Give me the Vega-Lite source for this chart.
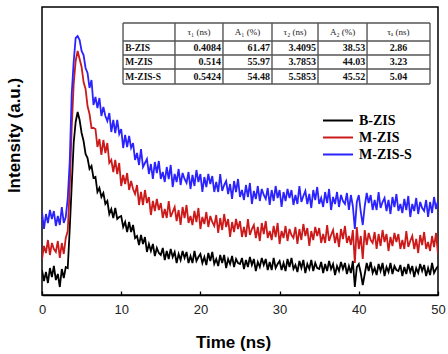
{
  "$schema": "https://vega.github.io/schema/vega-lite/v6.json",
  "autosize": {"type": "none"},
  "padding": {"left": 42, "top": 7, "right": 10, "bottom": 59},
  "width": 396,
  "height": 288,
  "background": "white",
  "config": {
    "view": {"stroke": "#000000", "strokeWidth": 1.5},
    "axis": {"grid": false}
  },
  "datasets": {
    "curves": [
      {"t":0,"B-ZIS":25,"M-ZIS":36,"M-ZIS-S":83},
      {"t":0.25,"B-ZIS":14,"M-ZIS":49,"M-ZIS-S":66},
      {"t":0.5,"B-ZIS":23,"M-ZIS":42,"M-ZIS-S":81},
      {"t":0.75,"B-ZIS":12,"M-ZIS":55,"M-ZIS-S":72},
      {"t":1,"B-ZIS":27,"M-ZIS":40,"M-ZIS-S":85},
      {"t":1.25,"B-ZIS":18,"M-ZIS":52,"M-ZIS-S":76},
      {"t":1.5,"B-ZIS":29,"M-ZIS":46,"M-ZIS-S":84},
      {"t":1.75,"B-ZIS":15,"M-ZIS":43,"M-ZIS-S":69},
      {"t":2,"B-ZIS":21,"M-ZIS":54,"M-ZIS-S":79},
      {"t":2.25,"B-ZIS":8,"M-ZIS":37,"M-ZIS-S":70},
      {"t":2.5,"B-ZIS":26,"M-ZIS":52,"M-ZIS-S":88},
      {"t":2.75,"B-ZIS":17,"M-ZIS":41,"M-ZIS-S":72},
      {"t":3,"B-ZIS":28,"M-ZIS":57,"M-ZIS-S":78},
      {"t":3.25,"B-ZIS":27,"M-ZIS":64,"M-ZIS-S":97},
      {"t":3.5,"B-ZIS":66,"M-ZIS":107,"M-ZIS-S":133},
      {"t":3.75,"B-ZIS":109,"M-ZIS":167,"M-ZIS-S":201},
      {"t":4,"B-ZIS":152,"M-ZIS":211,"M-ZIS-S":233},
      {"t":4.25,"B-ZIS":173,"M-ZIS":234,"M-ZIS-S":257},
      {"t":4.5,"B-ZIS":183,"M-ZIS":244,"M-ZIS-S":259},
      {"t":4.75,"B-ZIS":175,"M-ZIS":236,"M-ZIS-S":255},
      {"t":5,"B-ZIS":162,"M-ZIS":228,"M-ZIS-S":244},
      {"t":5.25,"B-ZIS":154,"M-ZIS":213,"M-ZIS-S":240},
      {"t":5.5,"B-ZIS":141,"M-ZIS":206,"M-ZIS-S":227},
      {"t":5.75,"B-ZIS":137,"M-ZIS":189,"M-ZIS-S":222},
      {"t":6,"B-ZIS":126,"M-ZIS":181,"M-ZIS-S":207},
      {"t":6.25,"B-ZIS":129,"M-ZIS":167,"M-ZIS-S":215},
      {"t":6.5,"B-ZIS":117,"M-ZIS":167,"M-ZIS-S":190},
      {"t":6.75,"B-ZIS":118,"M-ZIS":166,"M-ZIS-S":198},
      {"t":7,"B-ZIS":103,"M-ZIS":148,"M-ZIS-S":187},
      {"t":7.25,"B-ZIS":107,"M-ZIS":156,"M-ZIS-S":197},
      {"t":7.5,"B-ZIS":98,"M-ZIS":140,"M-ZIS-S":179},
      {"t":7.75,"B-ZIS":102,"M-ZIS":155,"M-ZIS-S":188},
      {"t":8,"B-ZIS":91,"M-ZIS":142,"M-ZIS-S":179},
      {"t":8.25,"B-ZIS":94,"M-ZIS":152,"M-ZIS-S":174},
      {"t":8.5,"B-ZIS":81,"M-ZIS":132,"M-ZIS-S":182},
      {"t":8.75,"B-ZIS":86,"M-ZIS":135,"M-ZIS-S":163},
      {"t":9,"B-ZIS":77,"M-ZIS":123,"M-ZIS-S":175},
      {"t":9.25,"B-ZIS":87,"M-ZIS":135,"M-ZIS-S":162},
      {"t":9.5,"B-ZIS":76,"M-ZIS":121,"M-ZIS-S":175},
      {"t":9.75,"B-ZIS":78,"M-ZIS":132,"M-ZIS-S":161},
      {"t":10,"B-ZIS":79,"M-ZIS":109,"M-ZIS-S":166},
      {"t":10.25,"B-ZIS":68,"M-ZIS":120,"M-ZIS-S":147},
      {"t":10.5,"B-ZIS":73,"M-ZIS":111,"M-ZIS-S":160},
      {"t":10.75,"B-ZIS":63,"M-ZIS":122,"M-ZIS-S":148},
      {"t":11,"B-ZIS":73,"M-ZIS":105,"M-ZIS-S":159},
      {"t":11.25,"B-ZIS":63,"M-ZIS":114,"M-ZIS-S":147},
      {"t":11.5,"B-ZIS":70,"M-ZIS":106,"M-ZIS-S":152},
      {"t":11.75,"B-ZIS":57,"M-ZIS":101,"M-ZIS-S":135},
      {"t":12,"B-ZIS":59,"M-ZIS":110,"M-ZIS-S":142},
      {"t":12.25,"B-ZIS":50,"M-ZIS":90,"M-ZIS-S":130},
      {"t":12.5,"B-ZIS":60,"M-ZIS":103,"M-ZIS-S":146},
      {"t":12.75,"B-ZIS":51,"M-ZIS":90,"M-ZIS-S":128},
      {"t":13,"B-ZIS":58,"M-ZIS":105,"M-ZIS-S":132},
      {"t":13.25,"B-ZIS":43,"M-ZIS":92,"M-ZIS-S":136},
      {"t":13.5,"B-ZIS":51,"M-ZIS":98,"M-ZIS-S":121},
      {"t":13.75,"B-ZIS":44,"M-ZIS":80,"M-ZIS-S":131},
      {"t":14,"B-ZIS":51,"M-ZIS":94,"M-ZIS-S":116},
      {"t":14.25,"B-ZIS":39,"M-ZIS":84,"M-ZIS-S":133},
      {"t":14.5,"B-ZIS":47,"M-ZIS":96,"M-ZIS-S":122},
      {"t":14.75,"B-ZIS":42,"M-ZIS":85,"M-ZIS-S":134},
      {"t":15,"B-ZIS":40,"M-ZIS":92,"M-ZIS-S":116},
      {"t":15.25,"B-ZIS":47,"M-ZIS":77,"M-ZIS-S":123},
      {"t":15.5,"B-ZIS":35,"M-ZIS":86,"M-ZIS-S":113},
      {"t":15.75,"B-ZIS":44,"M-ZIS":77,"M-ZIS-S":128},
      {"t":16,"B-ZIS":36,"M-ZIS":94,"M-ZIS-S":116},
      {"t":16.25,"B-ZIS":46,"M-ZIS":78,"M-ZIS-S":130},
      {"t":16.5,"B-ZIS":38,"M-ZIS":83,"M-ZIS-S":108},
      {"t":16.75,"B-ZIS":43,"M-ZIS":88,"M-ZIS-S":121},
      {"t":17,"B-ZIS":32,"M-ZIS":74,"M-ZIS-S":113},
      {"t":17.25,"B-ZIS":41,"M-ZIS":85,"M-ZIS-S":126},
      {"t":17.5,"B-ZIS":35,"M-ZIS":70,"M-ZIS-S":110},
      {"t":17.75,"B-ZIS":44,"M-ZIS":88,"M-ZIS-S":122},
      {"t":18,"B-ZIS":37,"M-ZIS":77,"M-ZIS-S":116},
      {"t":18.25,"B-ZIS":43,"M-ZIS":90,"M-ZIS-S":112},
      {"t":18.5,"B-ZIS":32,"M-ZIS":72,"M-ZIS-S":123},
      {"t":18.75,"B-ZIS":39,"M-ZIS":79,"M-ZIS-S":106},
      {"t":19,"B-ZIS":32,"M-ZIS":70,"M-ZIS-S":120},
      {"t":19.25,"B-ZIS":44,"M-ZIS":84,"M-ZIS-S":109},
      {"t":19.5,"B-ZIS":34,"M-ZIS":73,"M-ZIS-S":125},
      {"t":19.75,"B-ZIS":38,"M-ZIS":87,"M-ZIS-S":113},
      {"t":20,"B-ZIS":41,"M-ZIS":66,"M-ZIS-S":121},
      {"t":20.25,"B-ZIS":32,"M-ZIS":78,"M-ZIS-S":103},
      {"t":20.5,"B-ZIS":38,"M-ZIS":71,"M-ZIS-S":118},
      {"t":20.75,"B-ZIS":30,"M-ZIS":83,"M-ZIS-S":108},
      {"t":21,"B-ZIS":42,"M-ZIS":68,"M-ZIS-S":121},
      {"t":21.25,"B-ZIS":34,"M-ZIS":79,"M-ZIS-S":111},
      {"t":21.5,"B-ZIS":43,"M-ZIS":73,"M-ZIS-S":119},
      {"t":21.75,"B-ZIS":31,"M-ZIS":69,"M-ZIS-S":103},
      {"t":22,"B-ZIS":36,"M-ZIS":80,"M-ZIS-S":113},
      {"t":22.25,"B-ZIS":29,"M-ZIS":62,"M-ZIS-S":103},
      {"t":22.5,"B-ZIS":40,"M-ZIS":77,"M-ZIS-S":121},
      {"t":22.75,"B-ZIS":32,"M-ZIS":65,"M-ZIS-S":104},
      {"t":23,"B-ZIS":40,"M-ZIS":81,"M-ZIS-S":110},
      {"t":23.25,"B-ZIS":27,"M-ZIS":68,"M-ZIS-S":114},
      {"t":23.5,"B-ZIS":36,"M-ZIS":76,"M-ZIS-S":101},
      {"t":23.75,"B-ZIS":31,"M-ZIS":58,"M-ZIS-S":111},
      {"t":24,"B-ZIS":39,"M-ZIS":73,"M-ZIS-S":96},
      {"t":24.25,"B-ZIS":28,"M-ZIS":63,"M-ZIS-S":114},
      {"t":24.5,"B-ZIS":36,"M-ZIS":76,"M-ZIS-S":103},
      {"t":24.75,"B-ZIS":32,"M-ZIS":66,"M-ZIS-S":116},
      {"t":25,"B-ZIS":31,"M-ZIS":74,"M-ZIS-S":98},
      {"t":25.25,"B-ZIS":37,"M-ZIS":58,"M-ZIS-S":105},
      {"t":25.5,"B-ZIS":26,"M-ZIS":68,"M-ZIS-S":95},
      {"t":25.75,"B-ZIS":35,"M-ZIS":58,"M-ZIS-S":110},
      {"t":26,"B-ZIS":28,"M-ZIS":76,"M-ZIS-S":98},
      {"t":26.25,"B-ZIS":38,"M-ZIS":60,"M-ZIS-S":112},
      {"t":26.5,"B-ZIS":30,"M-ZIS":66,"M-ZIS-S":91},
      {"t":26.75,"B-ZIS":36,"M-ZIS":70,"M-ZIS-S":104},
      {"t":27,"B-ZIS":24,"M-ZIS":57,"M-ZIS-S":96},
      {"t":27.25,"B-ZIS":33,"M-ZIS":68,"M-ZIS-S":109},
      {"t":27.5,"B-ZIS":28,"M-ZIS":54,"M-ZIS-S":94},
      {"t":27.75,"B-ZIS":37,"M-ZIS":72,"M-ZIS-S":106},
      {"t":28,"B-ZIS":30,"M-ZIS":61,"M-ZIS-S":100},
      {"t":28.25,"B-ZIS":36,"M-ZIS":74,"M-ZIS-S":96},
      {"t":28.5,"B-ZIS":25,"M-ZIS":57,"M-ZIS-S":107},
      {"t":28.75,"B-ZIS":33,"M-ZIS":64,"M-ZIS-S":90},
      {"t":29,"B-ZIS":25,"M-ZIS":55,"M-ZIS-S":105},
      {"t":29.25,"B-ZIS":37,"M-ZIS":69,"M-ZIS-S":94},
      {"t":29.5,"B-ZIS":27,"M-ZIS":58,"M-ZIS-S":109},
      {"t":29.75,"B-ZIS":31,"M-ZIS":72,"M-ZIS-S":97},
      {"t":30,"B-ZIS":34,"M-ZIS":51,"M-ZIS-S":105},
      {"t":30.25,"B-ZIS":25,"M-ZIS":64,"M-ZIS-S":88},
      {"t":30.5,"B-ZIS":32,"M-ZIS":57,"M-ZIS-S":103},
      {"t":30.75,"B-ZIS":24,"M-ZIS":69,"M-ZIS-S":94},
      {"t":31,"B-ZIS":36,"M-ZIS":54,"M-ZIS-S":106},
      {"t":31.25,"B-ZIS":28,"M-ZIS":66,"M-ZIS-S":97},
      {"t":31.5,"B-ZIS":37,"M-ZIS":60,"M-ZIS-S":105},
      {"t":31.75,"B-ZIS":26,"M-ZIS":57,"M-ZIS-S":90},
      {"t":32,"B-ZIS":30,"M-ZIS":68,"M-ZIS-S":100},
      {"t":32.25,"B-ZIS":23,"M-ZIS":51,"M-ZIS-S":91},
      {"t":32.5,"B-ZIS":34,"M-ZIS":66,"M-ZIS-S":109},
      {"t":32.75,"B-ZIS":27,"M-ZIS":55,"M-ZIS-S":93},
      {"t":33,"B-ZIS":35,"M-ZIS":71,"M-ZIS-S":99},
      {"t":33.25,"B-ZIS":22,"M-ZIS":59,"M-ZIS-S":104},
      {"t":33.5,"B-ZIS":31,"M-ZIS":67,"M-ZIS-S":91},
      {"t":33.75,"B-ZIS":26,"M-ZIS":49,"M-ZIS-S":101},
      {"t":34,"B-ZIS":35,"M-ZIS":64,"M-ZIS-S":87},
      {"t":34.25,"B-ZIS":24,"M-ZIS":55,"M-ZIS-S":105},
      {"t":34.5,"B-ZIS":32,"M-ZIS":68,"M-ZIS-S":95},
      {"t":34.75,"B-ZIS":27,"M-ZIS":59,"M-ZIS-S":108},
      {"t":35,"B-ZIS":26,"M-ZIS":67,"M-ZIS-S":91},
      {"t":35.25,"B-ZIS":33,"M-ZIS":52,"M-ZIS-S":97},
      {"t":35.5,"B-ZIS":22,"M-ZIS":61,"M-ZIS-S":88},
      {"t":35.75,"B-ZIS":31,"M-ZIS":52,"M-ZIS-S":103},
      {"t":36,"B-ZIS":24,"M-ZIS":70,"M-ZIS-S":92},
      {"t":36.25,"B-ZIS":34,"M-ZIS":54,"M-ZIS-S":106},
      {"t":36.5,"B-ZIS":26,"M-ZIS":60,"M-ZIS-S":85},
      {"t":36.75,"B-ZIS":31,"M-ZIS":65,"M-ZIS-S":98},
      {"t":37,"B-ZIS":20,"M-ZIS":52,"M-ZIS-S":91},
      {"t":37.25,"B-ZIS":29,"M-ZIS":62,"M-ZIS-S":103},
      {"t":37.5,"B-ZIS":24,"M-ZIS":48,"M-ZIS-S":88},
      {"t":37.75,"B-ZIS":33,"M-ZIS":66,"M-ZIS-S":100},
      {"t":38,"B-ZIS":26,"M-ZIS":56,"M-ZIS-S":94},
      {"t":38.25,"B-ZIS":32,"M-ZIS":69,"M-ZIS-S":91},
      {"t":38.5,"B-ZIS":21,"M-ZIS":52,"M-ZIS-S":102},
      {"t":38.75,"B-ZIS":29,"M-ZIS":59,"M-ZIS-S":85},
      {"t":39,"B-ZIS":22,"M-ZIS":50,"M-ZIS-S":100},
      {"t":39.25,"B-ZIS":34,"M-ZIS":65,"M-ZIS-S":89},
      {"t":39.5,"B-ZIS":8,"M-ZIS":32,"M-ZIS-S":66},
      {"t":39.75,"B-ZIS":28,"M-ZIS":68,"M-ZIS-S":93},
      {"t":40,"B-ZIS":31,"M-ZIS":46,"M-ZIS-S":100},
      {"t":40.25,"B-ZIS":22,"M-ZIS":59,"M-ZIS-S":83},
      {"t":40.5,"B-ZIS":10,"M-ZIS":36,"M-ZIS-S":70},
      {"t":40.75,"B-ZIS":21,"M-ZIS":65,"M-ZIS-S":89},
      {"t":41,"B-ZIS":32,"M-ZIS":50,"M-ZIS-S":102},
      {"t":41.25,"B-ZIS":24,"M-ZIS":62,"M-ZIS-S":92},
      {"t":41.5,"B-ZIS":33,"M-ZIS":55,"M-ZIS-S":100},
      {"t":41.75,"B-ZIS":22,"M-ZIS":52,"M-ZIS-S":85},
      {"t":42,"B-ZIS":27,"M-ZIS":63,"M-ZIS-S":95},
      {"t":42.25,"B-ZIS":20,"M-ZIS":46,"M-ZIS-S":85},
      {"t":42.5,"B-ZIS":31,"M-ZIS":61,"M-ZIS-S":103},
      {"t":42.75,"B-ZIS":24,"M-ZIS":49,"M-ZIS-S":87},
      {"t":43,"B-ZIS":32,"M-ZIS":65,"M-ZIS-S":93},
      {"t":43.25,"B-ZIS":19,"M-ZIS":53,"M-ZIS-S":97},
      {"t":43.5,"B-ZIS":28,"M-ZIS":61,"M-ZIS-S":84},
      {"t":43.75,"B-ZIS":23,"M-ZIS":44,"M-ZIS-S":95},
      {"t":44,"B-ZIS":32,"M-ZIS":58,"M-ZIS-S":81},
      {"t":44.25,"B-ZIS":21,"M-ZIS":49,"M-ZIS-S":98},
      {"t":44.5,"B-ZIS":29,"M-ZIS":62,"M-ZIS-S":88},
      {"t":44.75,"B-ZIS":25,"M-ZIS":53,"M-ZIS-S":101},
      {"t":45,"B-ZIS":24,"M-ZIS":61,"M-ZIS-S":84},
      {"t":45.25,"B-ZIS":30,"M-ZIS":46,"M-ZIS-S":91},
      {"t":45.5,"B-ZIS":19,"M-ZIS":55,"M-ZIS-S":82},
      {"t":45.75,"B-ZIS":28,"M-ZIS":46,"M-ZIS-S":96},
      {"t":46,"B-ZIS":21,"M-ZIS":64,"M-ZIS-S":85},
      {"t":46.25,"B-ZIS":31,"M-ZIS":48,"M-ZIS-S":99},
      {"t":46.5,"B-ZIS":23,"M-ZIS":54,"M-ZIS-S":78},
      {"t":46.75,"B-ZIS":29,"M-ZIS":59,"M-ZIS-S":91},
      {"t":47,"B-ZIS":18,"M-ZIS":46,"M-ZIS-S":84},
      {"t":47.25,"B-ZIS":27,"M-ZIS":56,"M-ZIS-S":97},
      {"t":47.5,"B-ZIS":22,"M-ZIS":42,"M-ZIS-S":81},
      {"t":47.75,"B-ZIS":31,"M-ZIS":60,"M-ZIS-S":93},
      {"t":48,"B-ZIS":24,"M-ZIS":50,"M-ZIS-S":87},
      {"t":48.25,"B-ZIS":30,"M-ZIS":63,"M-ZIS-S":84},
      {"t":48.5,"B-ZIS":19,"M-ZIS":46,"M-ZIS-S":95},
      {"t":48.75,"B-ZIS":27,"M-ZIS":53,"M-ZIS-S":78},
      {"t":49,"B-ZIS":20,"M-ZIS":44,"M-ZIS-S":93},
      {"t":49.25,"B-ZIS":32,"M-ZIS":59,"M-ZIS-S":82},
      {"t":49.5,"B-ZIS":22,"M-ZIS":48,"M-ZIS-S":98},
      {"t":49.75,"B-ZIS":26,"M-ZIS":62,"M-ZIS-S":86},
      {"t":50,"B-ZIS":29,"M-ZIS":41,"M-ZIS-S":94}
    ],
    "grid": [
      {"x1":10.23,"x2":48.99,"y1":272,"y2":272},
      {"x1":10.23,"x2":48.99,"y1":254,"y2":254},
      {"x1":10.23,"x2":48.99,"y1":240,"y2":240},
      {"x1":10.23,"x2":48.99,"y1":226,"y2":226},
      {"x1":10.23,"x2":48.99,"y1":211,"y2":211},
      {"x1":10.23,"x2":10.23,"y1":211,"y2":272},
      {"x1":16.79,"x2":16.79,"y1":211,"y2":272},
      {"x1":22.85,"x2":22.85,"y1":211,"y2":272},
      {"x1":29.04,"x2":29.04,"y1":211,"y2":272},
      {"x1":34.85,"x2":34.85,"y1":211,"y2":272},
      {"x1":41.04,"x2":41.04,"y1":211,"y2":272},
      {"x1":48.99,"x2":48.99,"y1":211,"y2":272}
    ],
    "cells": [
      {"x":19.82,"y":263,"text":"τ₁ (ns)","kind":"head"},
      {"x":25.95,"y":263,"text":"A₁ (%)","kind":"head"},
      {"x":31.95,"y":263,"text":"τ₂ (ns)","kind":"head"},
      {"x":37.95,"y":263,"text":"A₂ (%)","kind":"head"},
      {"x":45.0,"y":263,"text":"τₐ (ns)","kind":"head"},
      {"x":10.5,"y":247,"text":"B-ZIS","kind":"name"},
      {"x":10.5,"y":233,"text":"M-ZIS","kind":"name"},
      {"x":10.5,"y":218.5,"text":"M-ZIS-S","kind":"name"},
      {"x":22.6,"y":247,"text":"0.4084","kind":"num"},
      {"x":28.8,"y":247,"text":"61.47","kind":"num"},
      {"x":34.6,"y":247,"text":"3.4095","kind":"num"},
      {"x":40.8,"y":247,"text":"38.53","kind":"num"},
      {"x":45.0,"y":247,"text":"2.86","kind":"avg"},
      {"x":22.6,"y":233,"text":"0.514","kind":"num"},
      {"x":28.8,"y":233,"text":"55.97","kind":"num"},
      {"x":34.6,"y":233,"text":"3.7853","kind":"num"},
      {"x":40.8,"y":233,"text":"44.03","kind":"num"},
      {"x":45.0,"y":233,"text":"3.23","kind":"avg"},
      {"x":22.6,"y":218.5,"text":"0.5424","kind":"num"},
      {"x":28.8,"y":218.5,"text":"54.48","kind":"num"},
      {"x":34.6,"y":218.5,"text":"5.5853","kind":"num"},
      {"x":40.8,"y":218.5,"text":"45.52","kind":"num"},
      {"x":45.0,"y":218.5,"text":"5.04","kind":"avg"}
    ]
  },
  "layer": [
    {
      "data": {"name": "curves"},
      "transform": [{"fold": ["B-ZIS", "M-ZIS", "M-ZIS-S"], "as": ["sample", "intensity"]}],
      "mark": {"type": "line", "strokeWidth": 1.8, "clip": true},
      "encoding": {
        "x": {
          "field": "t", "type": "quantitative", "title": "Time (ns)",
          "scale": {"domain": [0, 50], "nice": false, "zero": false},
          "axis": {
            "values": [0,5,10,15,20,25,30,35,40,45,50],
            "labelExpr": "datum.value % 10 === 0 ? datum.label : ''",
            "labelFlush": false,
            "labelOverlap": false,
            "tickSize": -4,
            "tickColor": "#000000",
            "tickWidth": 1.3,
            "domainColor": "#000000",
            "domainWidth": 1.5,
            "labelFont": "Liberation Sans",
            "labelFontSize": 13,
            "labelColor": "#222222",
            "labelPadding": 12,
            "titleFont": "Liberation Sans",
            "titleFontSize": 17,
            "titleFontWeight": "bold",
            "titleColor": "#000000",
            "titlePadding": 18,
            "titleX": 191
          }
        },
        "y": {
          "field": "intensity", "type": "quantitative", "title": "Intensity (a.u.)",
          "scale": {"domain": [0, 288], "nice": false, "zero": false},
          "axis": {
            "ticks": false, "labels": false, "domain": false,
            "titleFont": "Liberation Sans",
            "titleFontSize": 17,
            "titleFontWeight": "bold",
            "titleColor": "#000000",
            "titlePadding": 19,
            "titleY": 128
          }
        },
        "color": {
          "field": "sample", "type": "nominal",
          "scale": {"domain": ["B-ZIS", "M-ZIS", "M-ZIS-S"], "range": ["#000000", "#cc1a1a", "#2a22ff"]},
          "legend": {
            "title": null,
            "orient": "none",
            "legendX": 280,
            "legendY": 105,
            "symbolType": "stroke",
            "symbolSize": 900,
            "symbolStrokeWidth": 2,
            "clipHeight": 17,
            "rowPadding": 0,
            "labelFont": "Liberation Serif",
            "labelFontSize": 14,
            "labelFontWeight": "bold",
            "labelColor": "#000000",
            "labelOffset": 5
          }
        }
      }
    },
    {
      "data": {"name": "grid"},
      "mark": {"type": "rule", "color": "#555555", "strokeWidth": 1.4},
      "encoding": {
        "x": {"field": "x1", "type": "quantitative", "title": "Time (ns)"},
        "x2": {"field": "x2"},
        "y": {"field": "y1", "type": "quantitative", "title": "Intensity (a.u.)"},
        "y2": {"field": "y2"}
      }
    },
    {
      "data": {"name": "cells"},
      "transform": [{"filter": "datum.kind === 'head'"}],
      "mark": {"type": "text", "align": "center", "baseline": "middle", "font": "Liberation Serif", "fontSize": 9, "color": "#222222"},
      "encoding": {
        "x": {"field": "x", "type": "quantitative", "title": "Time (ns)"},
        "y": {"field": "y", "type": "quantitative", "title": "Intensity (a.u.)"},
        "text": {"field": "text"}
      }
    },
    {
      "data": {"name": "cells"},
      "transform": [{"filter": "datum.kind === 'name'"}],
      "mark": {"type": "text", "align": "left", "baseline": "middle", "font": "Liberation Serif", "fontSize": 9.5, "fontWeight": "bold", "color": "#111111"},
      "encoding": {
        "x": {"field": "x", "type": "quantitative", "title": "Time (ns)"},
        "y": {"field": "y", "type": "quantitative", "title": "Intensity (a.u.)"},
        "text": {"field": "text"}
      }
    },
    {
      "data": {"name": "cells"},
      "transform": [{"filter": "datum.kind === 'num'"}],
      "mark": {"type": "text", "align": "right", "baseline": "middle", "font": "Liberation Serif", "fontSize": 10, "fontWeight": "bold", "color": "#111111"},
      "encoding": {
        "x": {"field": "x", "type": "quantitative", "title": "Time (ns)"},
        "y": {"field": "y", "type": "quantitative", "title": "Intensity (a.u.)"},
        "text": {"field": "text"}
      }
    },
    {
      "data": {"name": "cells"},
      "transform": [{"filter": "datum.kind === 'avg'"}],
      "mark": {"type": "text", "align": "center", "baseline": "middle", "font": "Liberation Serif", "fontSize": 10, "fontWeight": "bold", "color": "#111111"},
      "encoding": {
        "x": {"field": "x", "type": "quantitative", "title": "Time (ns)"},
        "y": {"field": "y", "type": "quantitative", "title": "Intensity (a.u.)"},
        "text": {"field": "text"}
      }
    }
  ]
}
